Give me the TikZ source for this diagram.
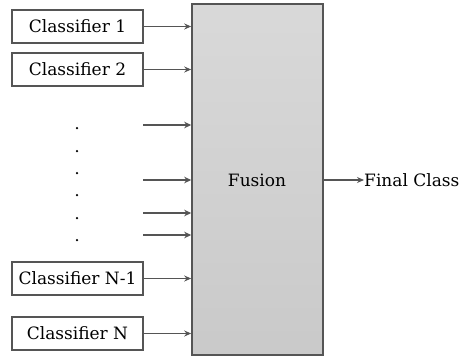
\documentclass[tikz,border=0pt]{standalone}
\usepackage{fontspec}
\setmainfont{DejaVu Serif}
\usetikzlibrary{arrows.meta}
\definecolor{edge}{HTML}{555555}
\tikzset{
  cls/.style={draw=edge, line width=1.3pt, fill=white, minimum width=131pt, minimum height=33pt, inner sep=0pt, font=\fontsize{17}{19}\selectfont},
  fus/.style={draw=edge, line width=1.6pt, top color=gray!30, bottom color=gray!42, minimum width=131pt, minimum height=351pt, inner sep=0pt},
  arr/.style={draw=edge, line width=1.3pt, -{Stealth[length=7pt,width=6pt]}},
  farr/.style={draw=edge, line width=1.7pt, -{Stealth[length=7pt,width=6.5pt]}},
  dotm/.style={circle, fill=black, inner sep=0pt, minimum size=2.5pt},
  lbl/.style={font=\fontsize{17}{19}\selectfont, inner sep=0pt}
}
\begin{document}
\begin{tikzpicture}[x=1pt,y=-1pt]
\useasboundingbox (0,0) rectangle (465,356);
\node[fus] (f) at (257.5,179.5) {};
\node[lbl] (ft) at (257,180) {Fusion};
\node[cls] (c1) at (77.5,26.5) {Classifier 1};
\node[cls] (c2) at (77.5,69.5) {Classifier 2};
\node[cls] (cn1) at (77.5,278.5) {Classifier N-1};
\node[cls] (cn) at (77.5,333.5) {Classifier N};
\draw[arr] (c1.east) -- (c1.east -| f.west);
\draw[arr] (c2.east) -- (c2.east -| f.west);
\draw[arr] (cn1.east) -- (cn1.east -| f.west);
\draw[arr] (cn.east) -- (cn.east -| f.west);
\foreach \y [count=\i] in {125,180,213,235} {
  \coordinate (s\i) at (143,\y);
  \draw[farr] (s\i) -- (s\i -| f.west);
}
\foreach \y [count=\i] in {128,151,173,195,218,240} {
  \node[dotm] (d\i) at (77,\y) {};
}
\node[lbl, anchor=west] (fc) at (364,180) {Final Class};
\draw[arr] (f.east |- fc.west) -- (fc.west);
\end{tikzpicture}
\end{document}
